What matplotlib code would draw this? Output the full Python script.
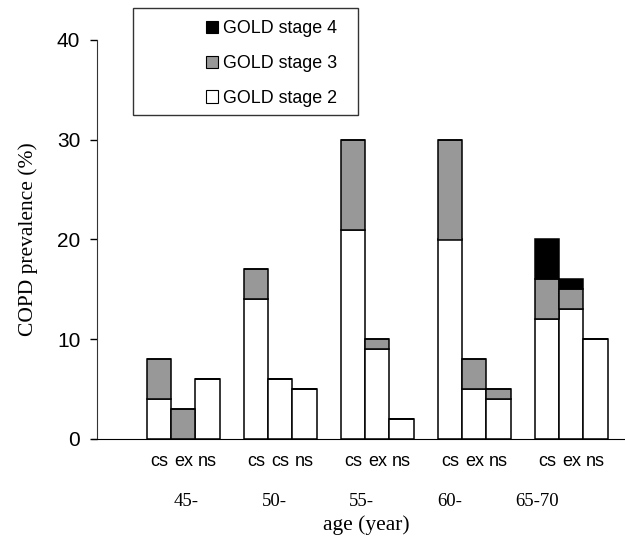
import matplotlib
matplotlib.use("Agg")
import matplotlib.pyplot as plt
from matplotlib.patches import Patch, Rectangle
import numpy as np

# ---- data ----
groups = ["45-", "50-", "55-", "60-", "65-70"]
smoking = [["cs", "ex", "ns"], ["cs", "cs", "ns"], ["cs", "ex", "ns"],
           ["cs", "ex", "ns"], ["cs", "ex", "ns"]]
stage2 = [4, 0, 6, 14, 6, 5, 21, 9, 2, 20, 5, 4, 12, 13, 10]
stage3 = [4, 3, 0, 3, 0, 0, 9, 1, 0, 10, 3, 1, 4, 2, 0]
stage4 = [0, 0, 0, 0, 0, 0, 0, 0, 0, 0, 0, 0, 4, 1, 0]
series_labels = ["GOLD stage 2", "GOLD stage 3", "GOLD stage 4"]
yticks = [0, 10, 20, 30, 40]

SANS = "Liberation Sans"
SERIF = "Liberation Serif"

fig = plt.figure(figsize=(6.25, 5.45), dpi=100)
W, H = 625, 545
ax = fig.add_axes([97 / W, 1 - 439 / H, (625 - 97) / W, (439 - 40) / H])

x = np.array([g * 4 + j for g in range(len(groups)) for j in range(3)], dtype=float)
s2 = np.array(stage2, float)
s3 = np.array(stage3, float)
s4 = np.array(stage4, float)

colors = ["white", "#989898", "black"]
kw = dict(width=1.0, edgecolor="black", linewidth=1.1)
ax.bar(x, s2, color=colors[0], **kw)
ax.bar(x, s3, bottom=s2, color=colors[1], **kw)
ax.bar(x, s4, bottom=s2 + s3, color=colors[2], **kw)

ax.set_xlim(-2.557, 19.216)
ax.set_ylim(0, 40)
ax.set_yticks(yticks)
ax.set_yticklabels([str(t) for t in yticks], fontsize=15, fontname=SANS)
ax.tick_params(axis="y", direction="out", length=5, width=1, pad=7)

ax.set_xticks(x)
ax.set_xticklabels([s for grp in smoking for s in grp], fontsize=13, fontname=SANS)
ax.tick_params(axis="x", length=0, pad=10)

for sp in ["top", "right"]:
    ax.spines[sp].set_visible(False)
ax.spines["left"].set_color("#333333")
ax.spines["bottom"].set_color("black")
ax.spines["bottom"].set_bounds(-2.75, 19.216)

# group labels
grp_pos = [1.13 + 3.615 * i for i in range(len(groups))]
for gx, lab in zip(grp_pos, groups):
    ax.text(gx, (439 - 501.5) / 399, lab, transform=ax.get_xaxis_transform(),
            ha="center", va="center", fontsize=13.5, fontname=SERIF)

ax.set_xlabel("age (year)", fontsize=15.5, fontname=SERIF)
ax.xaxis.set_label_coords((366 - 97) / 528, (439 - 525) / 399)
ax.xaxis.label.set_va("center")

ax.set_ylabel("COPD prevalence (%)", fontsize=15.5, fontname=SERIF)
ax.yaxis.set_label_coords((28 - 97) / 528, 0.5)
ax.yaxis.label.set_va("center")

# legend frame
fig.patches.append(Rectangle((133 / W, 1 - 115 / H), (358 - 133) / W, (115 - 8) / H,
                             transform=fig.transFigure, facecolor="white",
                             edgecolor="#333333", linewidth=1.0, zorder=5))
handles = [Patch(facecolor=c, edgecolor="black", linewidth=0.8) for c in colors]
leg = fig.legend(handles[::-1], series_labels[::-1], loc="upper left",
                 bbox_to_anchor=(206 / W, 1 - 20 / H), frameon=False,
                 prop={"family": SANS, "size": 12.9}, handlelength=0.67,
                 handleheight=0.67, handletextpad=0.3, labelspacing=1.0,
                 borderaxespad=0, borderpad=0)
leg.set_zorder(6)

fig.savefig("out.png", dpi=100)
